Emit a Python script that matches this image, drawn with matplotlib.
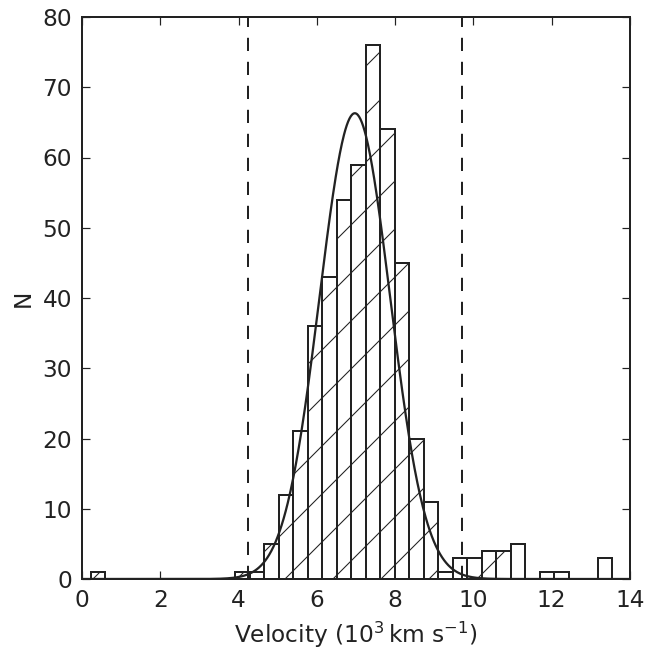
import numpy as np
import matplotlib
matplotlib.use("Agg")
import matplotlib.pyplot as plt
import matplotlib.hatch as mhatch

# ---- data ----
bin_start = 0.22
bin_width = 0.37
counts = [1, 0, 0, 0, 0, 0, 0, 0, 0, 0,
          1, 1, 5, 12, 21, 36, 43, 54, 59, 76,
          64, 45, 20, 11, 1, 3, 3, 4, 4, 5,
          0, 1, 1, 0, 0, 3]
fit_amp = 66.3
fit_mu = 6.97
fit_sigma = 0.90
cut_low = 4.24
cut_high = 9.70
xticks = [0, 2, 4, 6, 8, 10, 12, 14]
yticks = [0, 10, 20, 30, 40, 50, 60, 70, 80]


# sparser '/' hatch (4 lines per hatch cell instead of 6)
class SparseNorthEastHatch(mhatch.NorthEastHatch):
    def __init__(self, hatch, density):
        self.num_lines = int(hatch.count('/') * density * 2 / 3)
        self.num_vertices = (self.num_lines + 1) * 2 if self.num_lines else 0


mhatch._hatch_types = [SparseNorthEastHatch if t is mhatch.NorthEastHatch else t
                       for t in mhatch._hatch_types]

DPI = 96
FS = 17.4
plt.rcParams['font.family'] = ['DejaVu Sans']
plt.rcParams['font.size'] = FS
plt.rcParams['hatch.linewidth'] = 0.8
plt.rcParams['hatch.color'] = '#333333'
plt.rcParams['lines.scale_dashes'] = False

fig = plt.figure(figsize=(648 / DPI, 650 / DPI), dpi=DPI)
ax = fig.add_axes([82 / 648, 1 - 579 / 650, (630 - 82) / 648, (579 - 17) / 650])

edges = bin_start + bin_width * np.arange(len(counts) + 1)
ax.bar(edges[:-1], counts, width=bin_width, align='edge', facecolor='white',
       edgecolor='#222222', linewidth=1.5, hatch='/', zorder=2)

xs = np.linspace(0, 14, 800)
ax.plot(xs, fit_amp * np.exp(-(xs - fit_mu) ** 2 / (2 * fit_sigma ** 2)),
        color='#222222', lw=1.7, zorder=3)

for c in (cut_low, cut_high):
    ax.axvline(c, color='#222222', lw=1.5, ls=(0, (9.9, 8.1)), zorder=3)

ax.set_xlim(0, 14)
ax.set_ylim(0, 80)
ax.set_xticks(xticks)
ax.set_yticks(yticks)
for s in ax.spines.values():
    s.set_linewidth(1.5)
    s.set_color('#222222')
ax.tick_params(direction='in', length=6, width=0.9, top=True, right=True,
               pad=7.5, labelsize=FS, colors='#222222')
ax.set_xlabel('Velocity (10$^3\\,$km s$^{-1}$)', fontsize=FS, color='#222222', labelpad=6)
ax.set_ylabel('N', fontsize=FS, color='#222222', labelpad=6)

fig.savefig('out.png', dpi=DPI)
